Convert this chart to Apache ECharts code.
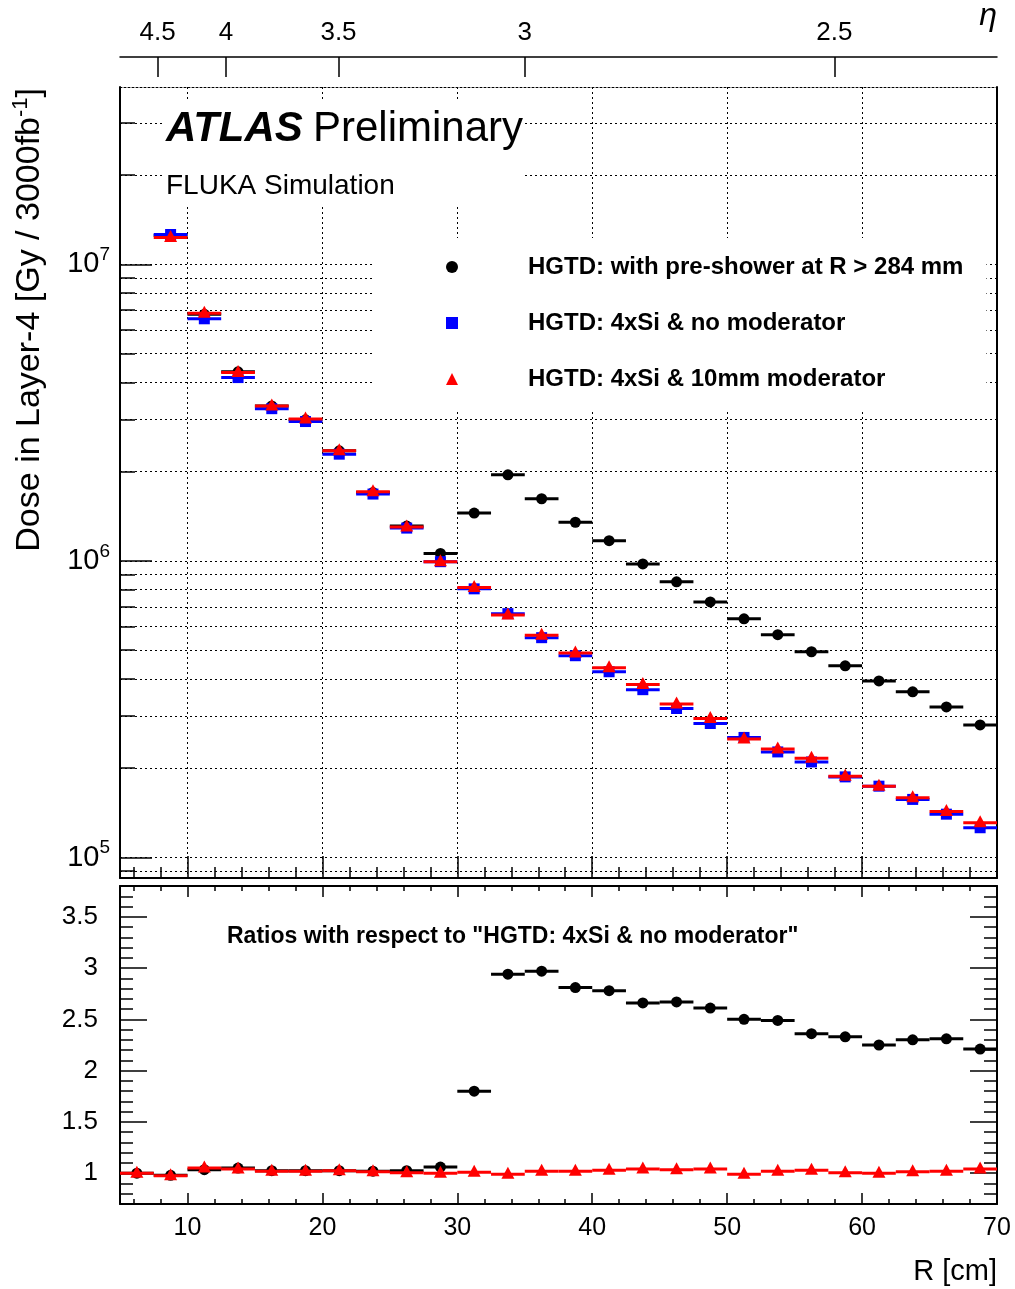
<!DOCTYPE html>
<html>
<head>
<meta charset="utf-8">
<script src="https://cdn.jsdelivr.net/npm/echarts@6/dist/echarts.min.js"></script>
<style>
html, body { margin: 0; padding: 0; background: #fff; }
#main { width: 1015px; height: 1289px; }
</style>
</head>
<body>
<div id="main"></div>
<script>
// bins of 2.5 cm from 5 to 70 cm, values at bin centres
var binCenters = [6.25, 8.75, 11.25, 13.75, 16.25, 18.75, 21.25, 23.75, 26.25, 28.75,
    31.25, 33.75, 36.25, 38.75, 41.25, 43.75, 46.25, 48.75, 51.25, 53.75,
    56.25, 58.75, 61.25, 63.75, 66.25, 68.75];
var binHalfWidth = 1.25;

// dose [Gy / 3000fb-1], first bin is above the plotted range
var dosePreShower = [null, 1.25e7, 6.78e6, 4.34e6, 3.33e6, 2.99e6, 2.35e6, 1.70e6, 1.31e6, 1.06e6,
    1.45e6, 1.95e6, 1.62e6, 1.35e6, 1.17e6, 9.77e5, 8.50e5, 7.27e5, 6.38e5, 5.64e5,
    4.94e5, 4.43e5, 3.94e5, 3.62e5, 3.22e5, 2.80e5];
var doseNoMod = [null, 1.26e7, 6.55e6, 4.15e6, 3.26e6, 2.95e6, 2.29e6, 1.68e6, 1.29e6, 9.94e5,
    8.05e5, 6.64e5, 5.51e5, 4.79e5, 4.23e5, 3.68e5, 3.18e5, 2.83e5, 2.54e5, 2.27e5,
    2.10e5, 1.87e5, 1.74e5, 1.57e5, 1.40e5, 1.26e5];
var doseMod10 = [null, 1.23e7, 6.84e6, 4.32e6, 3.33e6, 3.01e6, 2.35e6, 1.71e6, 1.30e6, 9.94e5,
    8.13e5, 6.57e5, 5.62e5, 4.89e5, 4.36e5, 3.83e5, 3.29e5, 2.94e5, 2.51e5, 2.32e5,
    2.16e5, 1.88e5, 1.74e5, 1.59e5, 1.43e5, 1.31e5];

// ratios to "4xSi & no moderator"
var ratioPreShower = [1.00, 0.98, 1.035, 1.05, 1.025, 1.025, 1.025, 1.02, 1.025, 1.06,
    1.80, 2.94, 2.97, 2.81, 2.78, 2.66, 2.67, 2.61, 2.50, 2.49,
    2.36, 2.33, 2.25, 2.30, 2.31, 2.21];
var ratioMod10 = [1.00, 0.975, 1.05, 1.04, 1.02, 1.02, 1.025, 1.015, 1.005, 1.00,
    1.01, 0.99, 1.02, 1.02, 1.03, 1.04, 1.035, 1.04, 0.99, 1.02,
    1.03, 1.005, 1.00, 1.015, 1.02, 1.04];

var seriesNames = ['HGTD: with pre-shower at R > 284 mm', 'HGTD: 4xSi & no moderator', 'HGTD: 4xSi & 10mm moderator'];
var seriesColors = ['#000000', '#0000ff', '#ff0000'];

// eta scale on top: R = z / sinh(eta)
var etaTicks = [4.5, 4, 3.5, 3, 2.5];
var zLayer = 350.6; // cm

var doseMin = 8.53e4, doseMax = 3.96e7;
var ratioMin = 0.7, ratioMax = 3.8;
var FONT = "'Liberation Sans', Arial, Helvetica, sans-serif";

function range(a, b, step) {
    var out = [];
    for (var v = a; v <= b + 1e-9; v += step) out.push(Math.round(v * 1000) / 1000);
    return out;
}
var xMajor = range(10, 70, 10);
var xMinor = range(6, 70, 2);
var ratioMajor = range(1, 3.5, 0.5);
var ratioMinor = range(0.8, 3.8, 0.1);
var logMajor = [1e5, 1e6, 1e7];
var logMinor = [];
[1e4, 1e5, 1e6, 1e7].forEach(function (d) {
    for (var m = 1; m < 10; m++) {
        var v = m * d;
        if (v >= doseMin && v <= doseMax) logMinor.push(v);
    }
});
var etaPos = etaTicks.map(function (e) { return zLayer / Math.sinh(e); });

function pairs(vals) {
    var out = [];
    vals.forEach(function (v, i) { if (v != null) out.push([binCenters[i], v]); });
    return out;
}

// horizontal bin-width bar plus marker
function makeRender(shape) {
    return function (params, api) {
        var x = api.value(0), y = api.value(1);
        var p0 = api.coord([x - binHalfWidth, y]);
        var p1 = api.coord([x + binHalfWidth, y]);
        var c = api.coord([x, y]);
        var color = api.visual('color');
        var kids = [{
            type: 'line',
            shape: { x1: p0[0], y1: p0[1], x2: p1[0], y2: p1[1] },
            style: { stroke: color, lineWidth: 3 }
        }];
        if (shape === 'circle') {
            kids.push({ type: 'circle', shape: { cx: c[0], cy: c[1], r: 5.5 }, style: { fill: color } });
        } else if (shape === 'rect') {
            kids.push({ type: 'rect', shape: { x: c[0] - 5.5, y: c[1] - 5.5, width: 11, height: 11 }, style: { fill: color } });
        } else {
            kids.push({ type: 'polygon', shape: { points: [[c[0], c[1] - 7.5], [c[0] + 6.5, c[1] + 4.5], [c[0] - 6.5, c[1] + 4.5]] }, style: { fill: color } });
        }
        return { type: 'group', children: kids };
    };
}

var gridLine = { show: true, lineStyle: { color: '#000', width: 1, type: [2, 3] } };
var noSplit = { show: false };
var tickStyle = { color: '#000', width: 1.5 };

function xAx(gridIndex, pos, opts) {
    return Object.assign({
        gridIndex: gridIndex, type: 'value', min: 5, max: 70, position: pos,
        axisLine: { show: false, onZero: false },
        axisTick: { show: false },
        axisLabel: { show: false },
        splitLine: noSplit
    }, opts);
}
function yAx(gridIndex, pos, type, min, max, opts) {
    return Object.assign({
        gridIndex: gridIndex, type: type, min: min, max: max, position: pos,
        axisLine: { show: false, onZero: false },
        axisTick: { show: false },
        axisLabel: { show: false },
        splitLine: noSplit
    }, opts);
}

var solidLine = { show: true, onZero: false, lineStyle: { color: '#000', width: 2 } };

var option = {
    animation: false,
    backgroundColor: '#fff',
    grid: [
        { left: 120, right: 18, top: 87, height: 791 },
        { left: 120, right: 18, top: 886, height: 318 },
        { left: 120, right: 18, top: 57, height: 20 }
    ],
    xAxis: [
        // top panel
        xAx(0, 'bottom', { axisLine: solidLine, axisTick: { show: true, inside: true, length: 22, customValues: xMajor, lineStyle: tickStyle }, splitLine: gridLine }),
        xAx(0, 'bottom', { axisTick: { show: true, inside: true, length: 11, customValues: xMinor, lineStyle: tickStyle } }),
        xAx(0, 'top', { axisLine: { show: true, onZero: false, lineStyle: { color: '#000', width: 1, type: [2, 2] } } }),
        // ratio panel
        xAx(1, 'bottom', {
            axisLine: solidLine,
            axisTick: { show: true, inside: true, length: 11, customValues: xMajor, lineStyle: tickStyle },
            axisLabel: { show: true, customValues: xMajor, margin: 12, fontSize: 25, fontFamily: FONT, color: '#000' },
            name: 'R [cm]', nameLocation: 'end', nameGap: 0,
            nameTextStyle: { fontSize: 29, fontFamily: FONT, color: '#000', align: 'right', verticalAlign: 'top', padding: [53, 0, 0, 0] }
        }),
        xAx(1, 'bottom', { axisTick: { show: true, inside: true, length: 5, customValues: xMinor, lineStyle: tickStyle } }),
        xAx(1, 'top', { axisLine: solidLine, axisTick: { show: true, inside: true, length: 11, customValues: xMajor, lineStyle: tickStyle } }),
        xAx(1, 'top', { axisTick: { show: true, inside: true, length: 5, customValues: xMinor, lineStyle: tickStyle } }),
        // eta scale
        xAx(2, 'top', {
            axisLine: { show: true, onZero: false, lineStyle: { color: '#000', width: 1.5 } },
            axisTick: { show: true, inside: true, length: 20, customValues: etaPos, lineStyle: tickStyle },
            axisLabel: {
                show: true, customValues: etaPos, margin: 11, fontSize: 26, fontFamily: FONT, color: '#000',
                formatter: function (v) { return String(Math.round(Math.asinh(zLayer / v) * 10) / 10); }
            }
        })
    ],
    yAxis: [
        // top panel, log dose
        yAx(0, 'left', 'log', doseMin, doseMax, {
            logBase: 10,
            axisLine: solidLine,
            axisTick: { show: true, inside: true, length: 32, customValues: logMajor, lineStyle: tickStyle },
            axisLabel: {
                show: true, customValues: logMajor, margin: 10,
                formatter: function (v) { return '{b|10}{s|' + Math.round(Math.log10(v)) + '}'; },
                rich: {
                    b: { fontSize: 29, fontFamily: FONT, color: '#000', lineHeight: 38, verticalAlign: 'middle' },
                    s: { fontSize: 19, fontFamily: FONT, color: '#000', lineHeight: 20, verticalAlign: 'top' }
                }
            }
        }),
        yAx(0, 'left', 'log', doseMin, doseMax, {
            logBase: 10,
            axisTick: { show: true, inside: true, length: 15, customValues: logMinor, lineStyle: tickStyle },
            splitLine: gridLine
        }),
        yAx(0, 'right', 'log', doseMin, doseMax, { logBase: 10, axisLine: solidLine }),
        // ratio panel
        yAx(1, 'left', 'value', ratioMin, ratioMax, {
            axisLine: solidLine,
            axisTick: { show: true, inside: true, length: 27, customValues: ratioMajor, lineStyle: tickStyle },
            axisLabel: { show: true, customValues: ratioMajor, margin: 22, fontSize: 26, fontFamily: FONT, color: '#000' }
        }),
        yAx(1, 'left', 'value', ratioMin, ratioMax, {
            axisTick: { show: true, inside: true, length: 13, customValues: ratioMinor, lineStyle: tickStyle }
        }),
        yAx(1, 'right', 'value', ratioMin, ratioMax, {
            axisLine: solidLine,
            axisTick: { show: true, inside: true, length: 27, customValues: ratioMajor, lineStyle: tickStyle }
        }),
        yAx(1, 'right', 'value', ratioMin, ratioMax, {
            axisTick: { show: true, inside: true, length: 13, customValues: ratioMinor, lineStyle: tickStyle }
        }),
        // eta helper
        yAx(2, 'left', 'value', 0, 1, { show: false })
    ],
    legend: {
        data: [
            { name: seriesNames[0], icon: 'circle' },
            { name: seriesNames[1], icon: 'rect' },
            { name: seriesNames[2], icon: 'triangle' }
        ],
        orient: 'vertical', left: 375, top: 238,
        padding: [17, 23, 19, 71],
        itemWidth: 12, itemHeight: 12, itemGap: 32,
        backgroundColor: '#fff',
        selectedMode: false,
        textStyle: { fontFamily: FONT, fontSize: 24, fontWeight: 'bold', color: '#000', lineHeight: 24, padding: [0, 0, 0, 65] }
    },
    graphic: [
        { type: 'rect', left: 165, top: 99, z: 3, shape: { width: 358, height: 106 }, style: { fill: '#fff' } },
        { type: 'text', x: 166, y: 129, z: 4, style: { text: 'ATLAS', font: 'italic bold 42px ' + FONT, fill: '#000', verticalAlign: 'middle' } },
        { type: 'text', x: 313, y: 129, z: 4, style: { text: 'Preliminary', font: '42px ' + FONT, fill: '#000', verticalAlign: 'middle' } },
        { type: 'text', x: 166, y: 186, z: 4, style: { text: 'FLUKA Simulation', font: '28px ' + FONT, fill: '#000', verticalAlign: 'middle' } },
        { type: 'text', x: 227, y: 937, z: 4, style: { text: 'Ratios with respect to "HGTD: 4xSi & no moderator"', font: 'bold 23px ' + FONT, fill: '#000', verticalAlign: 'middle' } },
        { type: 'text', x: 997, y: 16, z: 4, style: { text: 'η', font: 'italic 32px ' + FONT, fill: '#000', align: 'right', verticalAlign: 'middle' } },
        {
            type: 'text', x: 30, y: 88, rotation: Math.PI / 2, z: 4,
            style: {
                text: '{n|Dose in Layer-4 [Gy / 3000fb}{s|-1}{n|]}', align: 'right', verticalAlign: 'middle',
                rich: {
                    n: { fontSize: 34, fontFamily: FONT, fill: '#000', lineHeight: 40, verticalAlign: 'middle' },
                    s: { fontSize: 22, fontFamily: FONT, fill: '#000', lineHeight: 20, verticalAlign: 'top' }
                }
            }
        }
    ],
    series: [
        { name: seriesNames[0], type: 'custom', xAxisIndex: 0, yAxisIndex: 0, itemStyle: { color: seriesColors[0] }, renderItem: makeRender('circle'), encode: { x: 0, y: 1 }, data: pairs(dosePreShower) },
        { name: seriesNames[1], type: 'custom', xAxisIndex: 0, yAxisIndex: 0, itemStyle: { color: seriesColors[1] }, renderItem: makeRender('rect'), encode: { x: 0, y: 1 }, data: pairs(doseNoMod) },
        { name: seriesNames[2], type: 'custom', xAxisIndex: 0, yAxisIndex: 0, itemStyle: { color: seriesColors[2] }, renderItem: makeRender('triangle'), encode: { x: 0, y: 1 }, data: pairs(doseMod10) },
        { name: 'ratio pre-shower', type: 'custom', xAxisIndex: 3, yAxisIndex: 3, itemStyle: { color: seriesColors[0] }, renderItem: makeRender('circle'), encode: { x: 0, y: 1 }, data: pairs(ratioPreShower) },
        { name: 'ratio 10mm', type: 'custom', xAxisIndex: 3, yAxisIndex: 3, itemStyle: { color: seriesColors[2] }, renderItem: makeRender('triangle'), encode: { x: 0, y: 1 }, data: pairs(ratioMod10) }
    ]
};

var chart = echarts.init(document.getElementById('main'));
chart.setOption(option);
</script>
</body>
</html>
